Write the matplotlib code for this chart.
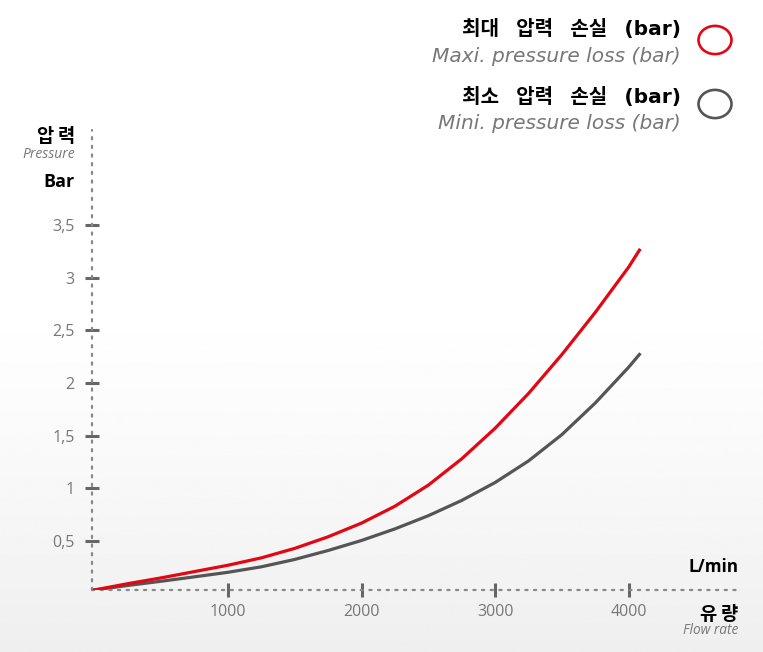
import matplotlib
matplotlib.use("Agg")
import matplotlib.pyplot as plt
import numpy as np
from matplotlib.patches import Circle

# 유량 (L/min) 과 압력 손실 (bar)
flow = [0, 250, 500, 750, 1000, 1250, 1500, 1750, 2000, 2250, 2500,
        2750, 3000, 3250, 3500, 3750, 4000, 4080]
p_max = [0.035, 0.095, 0.15, 0.21, 0.27, 0.34, 0.43, 0.54, 0.67, 0.83, 1.03,
         1.28, 1.57, 1.90, 2.27, 2.67, 3.10, 3.26]
p_min = [0.035, 0.078, 0.118, 0.16, 0.203, 0.255, 0.325, 0.41, 0.505, 0.615,
         0.74, 0.885, 1.055, 1.26, 1.51, 1.81, 2.15, 2.27]

x_ticks = [1000, 2000, 3000, 4000]
y_ticks = [0.5, 1, 1.5, 2, 2.5, 3, 3.5]
y_labels = ['0,5', '1', '1,5', '2', '2,5', '3', '3,5']

RED = '#e30613'
GREY = '#555555'
KR = ['Noto Sans CJK KR', 'DejaVu Sans']
LAT_KR = ['DejaVu Sans', 'Noto Sans CJK KR']
GAP = '\u2002 '

W, H = 763, 652
fig = plt.figure(figsize=(W / 100, H / 100), dpi=100)


def fx(x):
    return x / W


def fy(y):
    return 1 - y / H


# 배경 그라데이션
bg = fig.add_axes([0, 0, 1, 1], zorder=-10)
g = np.linspace(0, 1, 300)
shade = np.clip((g - 0.45) / 0.55, 0, 1) ** 1.3
img = 1 - 0.065 * shade
bg.imshow(img[:, None], aspect='auto', cmap='gray', vmin=0, vmax=1,
          extent=[0, 1, 0, 1])
bg.axis('off')

ax = fig.add_axes([fx(91.7), fy(590), (740 - 91.7) / W, (590 - 130) / H])
ax.patch.set_alpha(0)
ax.plot(flow, p_max, color=RED, lw=2.3, solid_joinstyle='round', zorder=3)
ax.plot(flow, p_min, color=GREY, lw=2.3, solid_joinstyle='round', zorder=2)

ax.set_xlim(-20, 4833)
ax.set_ylim(0.035, 4.40)

for s in ['top', 'right']:
    ax.spines[s].set_visible(False)
for s in ['left', 'bottom']:
    ax.spines[s].set_color('#888888')
    ax.spines[s].set_linewidth(1.6)
    ax.spines[s].set_linestyle((0, (1, 2.9)))
    ax.spines[s].set_capstyle('round')

ax.set_xticks(x_ticks)
ax.set_xticklabels([str(v) for v in x_ticks])
ax.set_yticks(y_ticks)
ax.set_yticklabels(y_labels)
ax.tick_params(axis='both', direction='inout', length=10.5, width=2.2,
               color='#666666', labelcolor='#777777', labelsize=11.5)
ax.tick_params(axis='x', pad=5)
ax.tick_params(axis='y', pad=7)
for lab in ax.get_xticklabels() + ax.get_yticklabels():
    lab.set_family('Open Sans')

# 축 제목
fig.text(fx(75), fy(136), '압\u2009력', family=KR, weight='bold',
         fontsize=13.5, ha='right', va='center')
fig.text(fx(75), fy(155), 'Pressure', family='Open Sans', style='italic',
         fontsize=10, color='#777777', ha='right', va='center')
fig.text(fx(75), fy(182), 'Bar', family='Open Sans', weight='bold',
         fontsize=13, ha='right', va='center')

fig.text(fx(738), fy(567), 'L/min', family='Open Sans', weight='bold',
         fontsize=12.3, ha='right', va='center')
fig.text(fx(738), fy(614), '유\u2009량', family=KR, weight='bold',
         fontsize=13.5, ha='right', va='center')
fig.text(fx(738), fy(631), 'Flow rate', family='Open Sans', style='italic',
         fontsize=9.8, color='#777777', ha='right', va='center')

# 범례
legend_items = [
    (GAP.join(['최대', '압력', '손실', '(bar)']), 'Maxi. pressure loss (bar)',
     RED, 35, 62, 40),
    (GAP.join(['최소', '압력', '손실', '(bar)']), 'Mini. pressure loss (bar)',
     GREY, 103, 129, 104),
]
for kr, en, col, y_kr, y_en, y_c in legend_items:
    fig.text(fx(681), fy(y_kr), kr, family=LAT_KR, weight='bold',
             fontsize=14.5, ha='right', va='baseline')
    fig.text(fx(681), fy(y_en), en, family='DejaVu Sans', style='italic',
             fontsize=14.5, color='#777777', ha='right', va='baseline')
    fig.patches.append(Circle((fx(715), fy(y_c)), 16.5 / W, fill=False,
                              edgecolor=col, lw=1.9,
                              transform=fig.transFigure, figure=fig))

fig.savefig('out.png', dpi=100)
